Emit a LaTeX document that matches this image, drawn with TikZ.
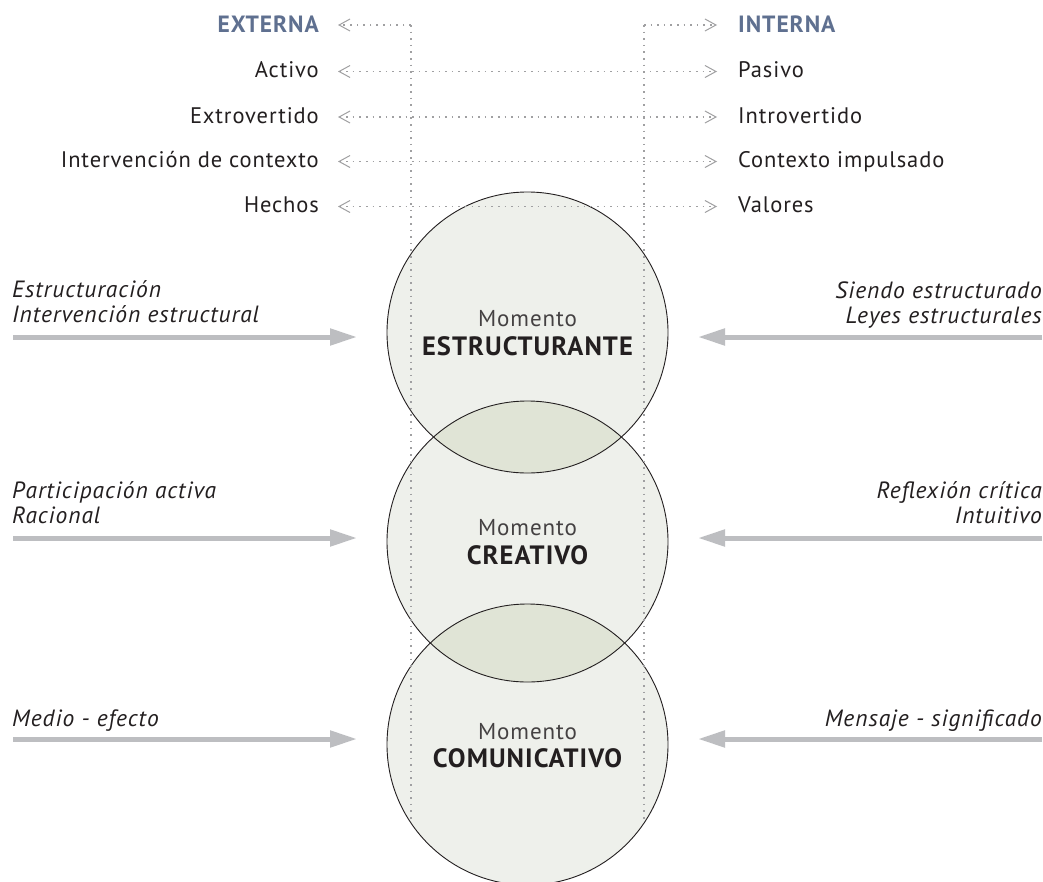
\documentclass[tikz,border=0pt]{standalone}
\usepackage{fontspec}
\setmainfont{PT Sans}[LetterSpace=4]
\usetikzlibrary{arrows.meta}

\definecolor{ink}{HTML}{231F20}
\definecolor{headblue}{HTML}{5F7090}
\definecolor{dotgray}{HTML}{A0A0A2}
\definecolor{arrgray}{HTML}{BDBEC1}
\definecolor{circfill}{HTML}{EEF0EB}
\definecolor{lensfill}{HTML}{E0E4D6}

\tikzset{
  chev/.tip={Straight Barb[length=11pt,width=12pt,line width=1pt]},
  dotline/.style={draw=dotgray, line width=1.6pt, dash pattern=on 1.6pt off 5pt},
  dotarrow/.style={dotline, chev-chev},
  dotleft/.style={dotline, -chev},
  fatarrow/.style={draw=arrgray, line width=5pt, -{Triangle[length=27pt,width=16pt]}},
  listtxt/.style={font=\fontsize{22.5}{26}\selectfont, text=ink, inner sep=0pt},
  headtxt/.style={font=\bfseries\fontsize{23.5}{27}\selectfont, text=headblue, inner sep=0pt},
  sidetxt/.style={font=\itshape\fontsize{23.5}{24.5}\selectfont, text=ink, inner sep=0pt},
  momtxt/.style={font=\fontsize{23}{27}\selectfont, text=ink!85, inner sep=0pt, anchor=base},
  momtitle/.style={font=\bfseries\fontsize{26.5}{30}\selectfont, text=ink, inner sep=0pt, anchor=base},
  moment/.style={circle, minimum size=281pt, inner sep=0pt, fill=circfill},
  rim/.style={draw=ink, line width=0.9pt},
}

\begin{document}
\begin{tikzpicture}[x=1pt, y=-1pt]
\clip (0,0) rectangle (1043,881);
\fill[white] (0,0) rectangle (1043,881);

% the three moments
\node[moment] (est) at (527.5,332.5) {};
\node[moment] (cre) at (527.5,541.5) {};
\node[moment] (com) at (527.5,744.5) {};

% overlaps between neighbouring moments
\begin{scope}
  \clip (est.center) circle[radius=140.5pt];
  \fill[lensfill] (cre.center) circle[radius=140.5pt];
\end{scope}
\begin{scope}
  \clip (cre.center) circle[radius=140.5pt];
  \fill[lensfill] (com.center) circle[radius=140.5pt];
\end{scope}

\draw[rim] (est.center) circle[radius=140.5pt];
\draw[rim] (cre.center) circle[radius=140.5pt];
\draw[rim] (com.center) circle[radius=140.5pt];

% external / internal scale
\node[headtxt, anchor=base east] (ext) at (319,32) {EXTERNA};
\node[headtxt, anchor=base west] (int) at (738,32) {INTERNA};
\node[listtxt, anchor=base east] (l1) at (319,77.5) {Activo};
\node[listtxt, anchor=base west] (r1) at (738,77.5) {Pasivo};
\node[listtxt, anchor=base east] (l2) at (319,123) {Extrovertido};
\node[listtxt, anchor=base west] (r2) at (738,123) {Introvertido};
\node[listtxt, anchor=base east] (l3) at (319,167.5) {Intervención de contexto};
\node[listtxt, anchor=base west] (r3) at (738,167.5) {Contexto impulsado};
\node[listtxt, anchor=base east] (l4) at (319,212.5) {Hechos};
\node[listtxt, anchor=base west] (r4) at (738,212.5) {Valores};

% dotted guides
\coordinate (vlt) at (411,25);
\coordinate (vlb) at (411,823);
\coordinate (vrt) at (644,25);
\coordinate (vrb) at (644,823);
\draw[dotline] (vlt) -- (vlb);
\draw[dotline] (vrt) -- (vrb);
\draw[dotleft] (vlt) -- ([xshift=19pt]ext.east |- vlt);
\draw[dotleft] (vrt) -- ([xshift=-21pt]int.west |- vrt);
\foreach \i in {1,2,3,4}{
  \draw[dotarrow] ([xshift=19pt,yshift=6pt]l\i.base east) -- ([xshift=-21pt,yshift=6pt]r\i.base west);
}

% side annotations
\node[sidetxt, anchor=base west] (sl1) at (12,322)
  {\begin{tabular}[b]{@{}l@{}}Estructuración\\Intervención estructural\end{tabular}};
\node[sidetxt, anchor=base east] (sr1) at (1042,323)
  {\begin{tabular}[b]{@{}r@{}}Siendo estructurado\\Leyes estructurales\end{tabular}};
\node[sidetxt, anchor=base west] (sl2) at (12,523)
  {\begin{tabular}[b]{@{}l@{}}Participación activa\\Racional\end{tabular}};
\node[sidetxt, anchor=base east] (sr2) at (1042,523)
  {\begin{tabular}[b]{@{}r@{}}Reflexión crítica\\Intuitivo\end{tabular}};
\node[sidetxt, anchor=base west] (sl3) at (12,726) {Medio - efecto};
\node[sidetxt, anchor=base east] (sr3) at (1042,726) {Mensaje - significado};

% influence arrows
\coordinate (a1s) at (13,337);   \coordinate (a1e) at (357,337);
\coordinate (b1s) at (1042,337); \coordinate (b1e) at (698,337);
\coordinate (a2s) at (13,538);   \coordinate (a2e) at (357,538);
\coordinate (b2s) at (1042,538); \coordinate (b2e) at (698,538);
\coordinate (a3s) at (13,739);   \coordinate (a3e) at (357,739);
\coordinate (b3s) at (1042,739); \coordinate (b3e) at (698,739);
\draw[fatarrow] (a1s) -- (a1e);
\draw[fatarrow] (b1s) -- (b1e);
\draw[fatarrow] (a2s) -- (a2e);
\draw[fatarrow] (b2s) -- (b2e);
\draw[fatarrow] (a3s) -- (a3e);
\draw[fatarrow] (b3s) -- (b3e);

% titles of the moments
\node[momtxt] (estA) at ([yshift=6pt]est.center) {Momento};
\node[momtitle] (estB) at ([yshift=-22.5pt]est.center) {ESTRUCTURANTE};
\node[momtxt] (creA) at ([yshift=6pt]cre.center) {Momento};
\node[momtitle] (creB) at ([yshift=-22.5pt]cre.center) {CREATIVO};
\node[momtxt] (comA) at ([yshift=5pt]com.center) {Momento};
\node[momtitle] (comB) at ([yshift=-22.5pt]com.center) {COMUNICATIVO};
\end{tikzpicture}
\end{document}
